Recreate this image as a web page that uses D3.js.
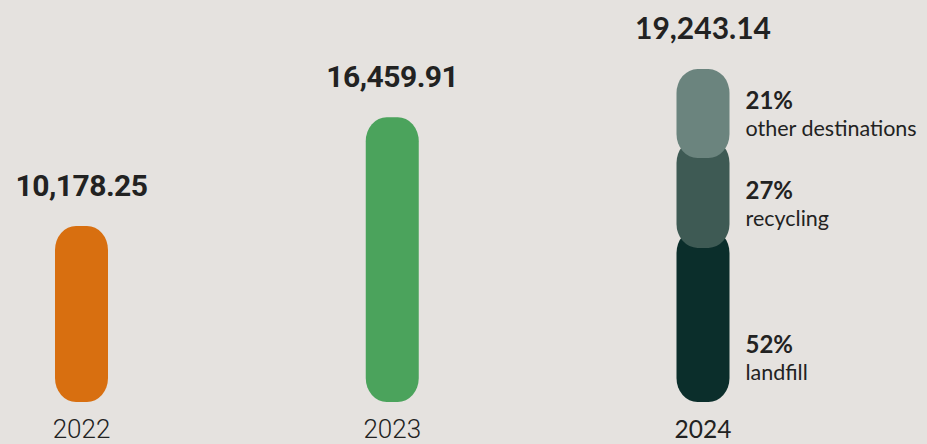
<!DOCTYPE html>
<html>
<head>
<meta charset="utf-8">
<script src="https://cdn.jsdelivr.net/npm/d3@7"></script>
<style>
  html, body { margin: 0; padding: 0; background: #e5e2df; }
  svg { display: block; }
</style>
</head>
<body>
<svg id="chart" width="927" height="444"></svg>
<script>
// Waste totals per year
const years = ["2022", "2023", "2024"];
const totals = [10178.25, 16459.91, 19243.14];

// 2024 breakdown by destination (percent of total), bottom to top
const destinations = ["landfill", "recycling", "other destinations"];
const shares = [52, 27, 21];

const svg = d3.select("#chart");
const barW = 53, rx = 21, ry = 24, overlap = 19;

const x = d3.scalePoint().domain(years).range([81.5, 703]);
const y = d3.scaleLinear().domain([0, 20000]).range([402, 56]);

const yearColor = d3.scaleOrdinal().domain(years).range(["#d86f10", "#4ba35c", "#0b2e2b"]);
const destColor = d3.scaleOrdinal().domain(destinations).range(["#0b2e2b", "#3e5a54", "#6b847e"]);
const isLast = i => i === years.length - 1;
const fontFor = i => isLast(i) ? "Lato" : "Roboto";

const rows = years.map((yr, i) => ({ year: yr, total: totals[i], i }));
const lastYear = years[years.length - 1];

// Single-colour pills for the earlier years
svg.selectAll("rect.bar")
  .data(rows.filter(d => !isLast(d.i)))
  .join("rect")
  .attr("class", "bar")
  .attr("x", d => x(d.year) - barW / 2)
  .attr("y", d => y(d.total))
  .attr("width", barW)
  .attr("height", d => y(0) - y(d.total))
  .attr("rx", rx).attr("ry", ry)
  .attr("fill", d => yearColor(d.year));

// Stacked pills for the latest year: each segment overlaps the one below with its rounded bottom
const lastTotal = totals[totals.length - 1];
let acc = 0;
const segs = destinations.map((name, k) => {
  const v0 = acc;
  acc += lastTotal * shares[k] / 100;
  return { name, share: shares[k], v0, v1: acc, k };
});
segs.forEach(s => {
  s.top = y(s.v1);
  s.bottom = s.k === 0 ? y(0) : Math.min(y(0), y(s.v0) + overlap);
});

svg.selectAll("rect.seg")
  .data(segs)
  .join("rect")
  .attr("class", "seg")
  .attr("x", x(lastYear) - barW / 2)
  .attr("y", d => d.top)
  .attr("width", barW)
  .attr("height", d => d.bottom - d.top)
  .attr("rx", rx).attr("ry", ry)
  .attr("fill", d => destColor(d.name));

// Segment labels to the right of the stacked bar
const lx = x(lastYear) + barW / 2 + 16;
const segLabels = svg.selectAll("g.seglabel")
  .data(segs)
  .join("g")
  .attr("class", "seglabel")
  .attr("transform", d => `translate(${lx},${d.bottom - 22})`);
segLabels.append("text")
  .attr("y", -27)
  .attr("font-family", "Lato")
  .attr("font-weight", 700)
  .attr("font-size", 24)
  .attr("fill", "#222")
  .text(d => d.share + "%");
segLabels.append("text")
  .attr("font-family", "Lato")
  .attr("font-size", 21.5)
  .attr("fill", "#222")
  .text(d => d.name);

// Value labels above each bar
const fmt = d3.format(",.2f");
svg.selectAll("text.value")
  .data(rows)
  .join("text")
  .attr("class", "value")
  .attr("x", d => x(d.year))
  .attr("y", d => y(d.total) - 30)
  .attr("text-anchor", "middle")
  .attr("font-family", d => fontFor(d.i))
  .attr("font-weight", 700)
  .attr("font-size", 30)
  .attr("letter-spacing", d => isLast(d.i) ? 0 : -0.5)
  .attr("fill", "#222")
  .text(d => fmt(d.total));

// Year labels along the bottom
svg.selectAll("text.year")
  .data(rows)
  .join("text")
  .attr("class", "year")
  .attr("x", d => x(d.year))
  .attr("y", 438)
  .attr("text-anchor", "middle")
  .attr("font-family", d => fontFor(d.i))
  .attr("font-weight", d => isLast(d.i) ? 400 : 300)
  .attr("font-size", d => isLast(d.i) ? 24.5 : 26)
  .attr("fill", "#222")
  .text(d => d.year);
</script>
</body>
</html>
